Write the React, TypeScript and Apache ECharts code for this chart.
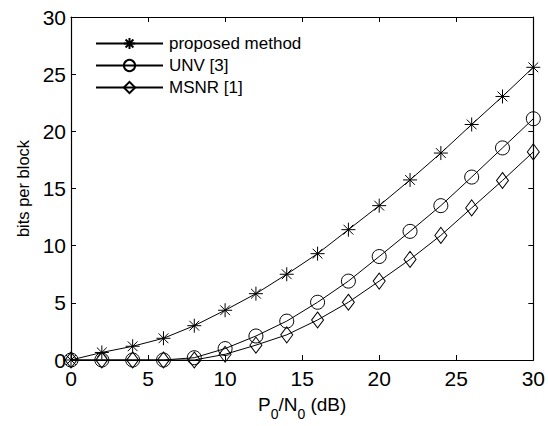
import React, { useEffect, useRef } from "react";
import * as echarts from "echarts";

const xValues = [0, 2, 4, 6, 8, 10, 12, 14, 16, 18, 20, 22, 24, 26, 28, 30];
const proposed = [0, 0.66, 1.2, 1.9, 3.0, 4.35, 5.8, 7.5, 9.3, 11.4, 13.5, 15.75, 18.1, 20.6, 23.05, 25.6];
const unv = [0, 0, 0, 0, 0.2, 1.0, 2.1, 3.4, 5.05, 6.9, 9.05, 11.25, 13.5, 16.0, 18.55, 21.1];
const msnr = [0, 0, 0, 0, 0, 0.5, 1.3, 2.2, 3.5, 5.05, 6.9, 8.8, 10.9, 13.3, 15.7, 18.2];
const seriesNames = ["proposed method", "UNV [3]", "MSNR [1]"];
const axisTicks = [0, 5, 10, 15, 20, 25, 30];

const FONT = "'Liberation Sans', Arial, Helvetica, sans-serif";
const STAR = "path://M0,-10L0,10M-10,0L10,0M-7,-7L7,7M-7,7L7,-7";

export default function App() {
  const ref = useRef<HTMLDivElement>(null);
  useEffect(() => {
    if (!ref.current) return;
    const chart = echarts.init(ref.current, undefined, { renderer: "svg" });
    const pts = (ys: number[]) => xValues.map((x, i) => [x, ys[i]]);
    const common = {
      type: "line",
      showSymbol: true,
      clip: false,
      lineStyle: { color: "#000", width: 1 },
      itemStyle: { color: "rgba(0,0,0,0)", borderColor: "#000", borderWidth: 1 },
      emphasis: { disabled: true },
    };
    const tickAxis = (pos: string, showLabel: boolean) => ({
      type: "value",
      min: axisTicks[0],
      max: axisTicks[axisTicks.length - 1],
      interval: 5,
      position: pos,
      axisLine: { show: true, onZero: false, lineStyle: { color: "#000", width: 1.2 } },
      axisTick: { show: true, inside: true, length: 5, lineStyle: { color: "#000" } },
      splitLine: { show: false },
      axisLabel: { show: showLabel, color: "#000", fontSize: 21, fontFamily: FONT, margin: pos === "bottom" ? 8 : 5 },
    });
    chart.setOption({
      animation: false,
      backgroundColor: "#fff",
      grid: { left: 71, top: 17, right: 14, bottom: 61, containLabel: false },
      legend: {
        data: seriesNames,
        orient: "vertical",
        left: 95,
        top: 35,
        padding: 0,
        itemWidth: 67,
        itemHeight: 14,
        itemGap: 5,
        textStyle: { color: "#000", fontSize: 17, fontFamily: FONT, padding: [0, 0, 0, 1] },
      },
      xAxis: [
        {
          ...tickAxis("bottom", true),
          name: "{m|P}{sub|0}{m|/N}{sub|0}{m| (dB)}",
          nameLocation: "middle",
          nameGap: 35,
          nameTextStyle: {
            color: "#000",
            fontSize: 19,
            fontFamily: FONT,
            rich: {
              m: { fontSize: 19, fontFamily: FONT, color: "#000", lineHeight: 20, verticalAlign: "top" },
              sub: { fontSize: 14, fontFamily: FONT, color: "#000", lineHeight: 16, verticalAlign: "top", padding: [12, 0, 0, 0] },
            },
          },
        },
        { ...tickAxis("top", false) },
      ],
      yAxis: [
        {
          ...tickAxis("left", true),
          name: "bits per block",
          nameLocation: "middle",
          nameGap: 40,
          nameTextStyle: { color: "#000", fontSize: 16.5, fontFamily: FONT },
        },
        { ...tickAxis("right", false) },
      ],
      series: [
        { ...common, name: seriesNames[0], data: pts(proposed), symbol: STAR, symbolSize: 14 },
        { ...common, name: seriesNames[1], data: pts(unv), symbol: "circle", symbolSize: 14 },
        { ...common, name: seriesNames[2], data: pts(msnr), symbol: "diamond", symbolSize: [12, 16] },
      ],
    });
    return () => chart.dispose();
  }, []);
  return <div ref={ref} style={{ width: 548, height: 426, position: "absolute", left: 0, top: 0 }} />;
}
